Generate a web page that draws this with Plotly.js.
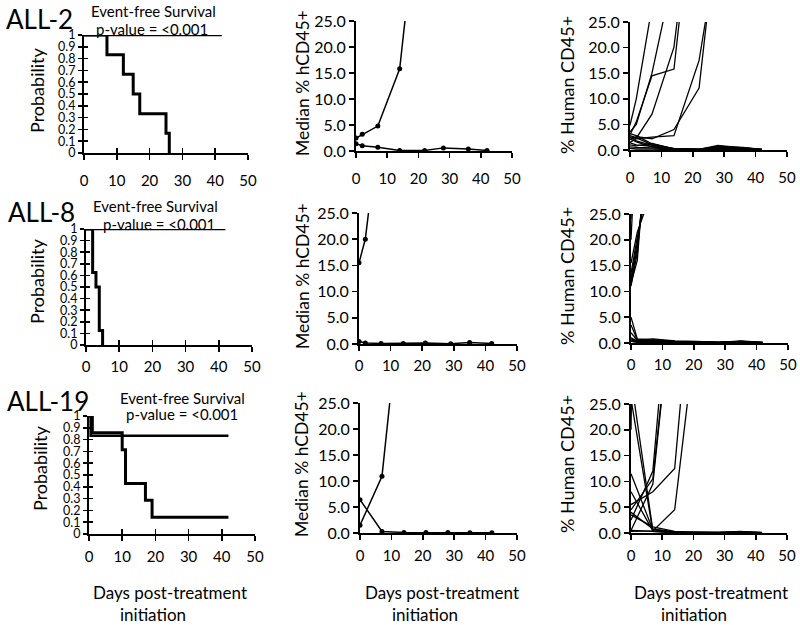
<!DOCTYPE html>
<html><head><meta charset="utf-8">
<script src="https://cdn.plot.ly/plotly-3.0.1.min.js"></script>
<style>html,body{margin:0;padding:0;background:#fff}#chart{width:800px;height:625px}</style>
</head><body><div id="chart"></div>
<script>
// ================= DATA =================
const kmTickVals = [0,0.1,0.2,0.3,0.4,0.5,0.6,0.7,0.8,0.9,1];
const kmTickText = ['0','0.1','0.2','0.3','0.4','0.5','0.6','0.7','0.8','0.9','1'];
const dayTickVals = [0,10,20,30,40,50];
const pctTickVals = [0,5,10,15,20,25];
const pctTickText = ['0.0','5.0','10.0','15.0','20.0','25.0'];

// Kaplan-Meier (event-free survival)
const all2KmCtrlDays = [0,7,12,15,17,25,26];
const all2KmCtrlProb = [1,0.833,0.667,0.5,0.333,0.167,0];
const all2KmTrtDays  = [0,42];
const all2KmTrtProb  = [1,1];

const all8KmCtrlDays = [0,2,3,4,5];
const all8KmCtrlProb = [1,0.625,0.5,0.125,0];
const all8KmTrtDays  = [0,42];
const all8KmTrtProb  = [1,1];

const all19KmCtrlDays = [0,1,10,11,17,19,42];
const all19KmCtrlProb = [1,0.857,0.714,0.429,0.286,0.143,0.143];
const all19KmTrtDays  = [0,0.5,42];
const all19KmTrtProb  = [1,0.833,0.833];

// Median % hCD45+
const all2MedCtrlDays = [0,2,7,14,21];
const all2MedCtrlVals = [2.5,3.2,4.8,15.8,54];
const all2MedTrtDays  = [0,2,7,14,22,28,36,42];
const all2MedTrtVals  = [1.4,1.0,0.7,0.1,0.1,0.6,0.4,0.1];

const all8MedCtrlDays = [0,2,7];
const all8MedCtrlVals = [15.5,20.0,45];
const all8MedTrtDays  = [0,2,7,14,21,29,35,42];
const all8MedTrtVals  = [0.5,0.2,0.1,0.1,0.2,0.05,0.3,0.1];

const all19MedCtrlDays = [0,7,14];
const all19MedCtrlVals = [1.5,10.9,51];
const all19MedTrtDays  = [0,7,14,21,28,35,42];
const all19MedTrtVals  = [6.4,0.3,0.1,0.1,0.1,0.05,0.05];

// Individual mice % human CD45+
const all2IndDays = [0,2,7,14,22,28,36,42];
const all2IndMice = [
  [4.8,10,28],
  [3.5,5,15,35],
  [2.5,2.3,7,20.1,60],
  [3.0,5.5,14.5,15.8,60],
  [2.0,2.6,2.2,4.0,12.1,45],
  [1.5,2.2,2.5,2.8,17.5,40],
  [3.2,2.8,1.2,0.2,0.1,0.9,0.4,0.1],
  [2.8,2.4,1.0,0.3,0.1,0.7,0.5,0.1],
  [2.2,1.6,0.6,0.1,0.2,0.5,0.3,0.05],
  [1.4,1.0,0.7,0.1,0.1,0.4,0.2,0.1],
  [1.0,0.8,1.3,0.2,0.1,0.3,0.3],
  [0.6,0.5,0.4,0.1,0.05,0.2,0.1,0.05],
  [2.6,1.8,0.9,0.2,0.1,0.6,0.4,0.1],
  [0.3,0.2,0.2,0.05,0.05,0.1,0.1,0.05]
];

const all8IndDays = [0,2,7,14,21,28,35,42];
const all8IndMice = [
  [24,60],
  [20,45],
  [11.0,17.5,50],
  [11.8,18.5,45],
  [12.5,19.5,40],
  [13.5,20.5,35],
  [15.5,21.5,30],
  [11.5,16,55],
  [5.0,0.8,0.6,0.3,0.2,0.1,0.3,0.1],
  [3.5,0.6,0.8,0.4,0.3,0.1,0.4,0.1],
  [2.0,0.5,0.5,0.2,0.2,0.1,0.2,0.05],
  [1.0,0.4,0.3,0.2,0.1,0.05,0.3,0.05],
  [0.6,0.3,0.4,0.1,0.2,0.1,0.1,0.05],
  [0.4,0.2,0.2,0.1,0.1,0.05,0.2],
  [0.8,0.3,0.6,0.3,0.2,0.1,0.2,0.1],
  [0.3,0.1,0.1,0.05,0.05,0.05,0.1,0.05]
];

const all19IndDays = [0,7,14,21,28,35,42];
const all19IndMice = [
  [30,0.5],
  [20,300],
  [2.5,12.0,60],
  [4.5,10.5,50],
  [0.5,9.5,50],
  [5.5,8.0,12.5,60],
  [0.3,0.4,4.5,40],
  [11.5,0.6,0.2,0.1,0.1,0.2,0.05],
  [8.0,0.4,0.1,0.1,0.05,0.3,0.05],
  [4.0,0.8,0.2,0.1,0.1,0.1,0.05],
  [3.5,1.2,0.3,0.1,0.1,0.2,0.1],
  [0.5,0.3,0.1,0.05,0.05,0.1,0.05],
  [26,0.3,0.1,0.1,0.1,0.1,0.05]
];

// Labels
const rowLabels = ['ALL-2','ALL-8','ALL-19'];
const kmTitle = 'Event-free Survival';
const pText = 'p-value = <0.001';
const yTitleKM = 'Probability';
const yTitleMed = 'Median % hCD45+';
const yTitleInd = '% Human CD45+';
const xTitle1 = 'Days post-treatment';
const xTitle2 = 'initiation';

// ================= LAYOUT GEOMETRY (pixels) =================
const W = 800, H = 625;
// [x0, x1, y0(top), y1(bottom)]
const boxes = [
  [84,248,35,153],[356,512,21,151],[630,787,22,150],
  [86,252,229,345],[359,517,213,344],[631,788,214,343],
  [89,255,416,534],[360,517,403,533],[631,787,404,533]
];
const px = v => v / W;
const py = v => 1 - v / H;

const FONT = 'Lato, "Open Sans", sans-serif';
const traces = [];
const layout = {
  width: W, height: H,
  margin: {l:0, r:0, t:0, b:0},
  paper_bgcolor: '#fff', plot_bgcolor: 'rgba(0,0,0,0)',
  showlegend: false,
  font: {family: FONT, color: '#000'},
  annotations: []
};

function axId(i){ return i === 1 ? '' : String(i); }

function setAxes(i, kind, standoff){
  const b = boxes[i-1];
  const xa = {
    domain: [px(b[0]), px(b[1])], anchor: 'y' + axId(i), range: [0,50],
    tickvals: dayTickVals, ticks: 'outside', ticklen: 5, tickwidth: 1.5, tickcolor: '#000',
    showline: true, linecolor: '#000', linewidth: 2, showgrid: false, zeroline: false,
    tickfont: {family: FONT, size: 15, color: '#000'}, ticklabelstandoff: standoff, fixedrange: true
  };
  const ya = {
    domain: [py(b[3]), py(b[2])], anchor: 'x' + axId(i),
    ticks: 'outside', ticklen: 5, tickwidth: 1.5, tickcolor: '#000',
    showline: true, linecolor: '#000', linewidth: 2, showgrid: false, zeroline: false,
    tickfont: {family: FONT, size: 16, color: '#000'}, fixedrange: true
  };
  if (kind === 'km') {
    ya.range = [0,1]; ya.tickvals = kmTickVals; ya.ticktext = kmTickText;
    ya.ticklen = 4; xa.ticklen = 5;
    ya.tickfont = {family: FONT, size: 12.5, color: '#000'};
  } else {
    ya.range = [0,25]; ya.tickvals = pctTickVals; ya.ticktext = pctTickText;
  }
  layout['xaxis' + axId(i)] = xa;
  layout['yaxis' + axId(i)] = ya;
}

// overlay axes giving the "cross" tick marks on KM panels
function setOverlay(base, id){
  layout['xaxis' + id] = {
    overlaying: 'x' + axId(base), anchor: 'y' + id, range: [0,50], tickvals: dayTickVals,
    ticks: 'inside', ticklen: 5, tickwidth: 1.5, tickcolor: '#000', showticklabels: false,
    showline: false, showgrid: false, zeroline: false, fixedrange: true
  };
  layout['yaxis' + id] = {
    overlaying: 'y' + axId(base), anchor: 'x' + id, range: [0,1], tickvals: kmTickVals,
    ticks: 'inside', ticklen: 4, tickwidth: 1.5, tickcolor: '#000', showticklabels: false,
    showline: false, showgrid: false, zeroline: false, fixedrange: true
  };
}

const kmSets = [
  [all2KmCtrlDays, all2KmCtrlProb, all2KmTrtDays, all2KmTrtProb],
  [all8KmCtrlDays, all8KmCtrlProb, all8KmTrtDays, all8KmTrtProb],
  [all19KmCtrlDays, all19KmCtrlProb, all19KmTrtDays, all19KmTrtProb]
];
const medSets = [
  [all2MedCtrlDays, all2MedCtrlVals, all2MedTrtDays, all2MedTrtVals],
  [all8MedCtrlDays, all8MedCtrlVals, all8MedTrtDays, all8MedTrtVals],
  [all19MedCtrlDays, all19MedCtrlVals, all19MedTrtDays, all19MedTrtVals]
];
const indSets = [
  [all2IndDays, all2IndMice],
  [all8IndDays, all8IndMice],
  [all19IndDays, all19IndMice]
];
const standoffs = [8, 2, 3];

for (let r = 0; r < 3; r++) {
  const iKM = r*3 + 1, iMed = r*3 + 2, iInd = r*3 + 3;
  setAxes(iKM, 'km', standoffs[r]);
  setAxes(iMed, 'pct', standoffs[r]);
  setAxes(iInd, 'pct', standoffs[r]);
  const ov = 10 + r;
  setOverlay(iKM, ov);

  const km = kmSets[r];
  traces.push({x: km[0], y: km[1], xaxis: 'x' + axId(iKM), yaxis: 'y' + axId(iKM),
    mode: 'lines', line: {shape: 'hv', color: '#000', width: 3}, hoverinfo: 'skip'});
  traces.push({x: km[2], y: km[3], xaxis: 'x' + ov, yaxis: 'y' + ov,
    mode: 'lines', line: {shape: 'hv', color: '#000', width: 2.5}, hoverinfo: 'skip'});

  const md = medSets[r];
  traces.push({x: md[0], y: md[1], xaxis: 'x' + axId(iMed), yaxis: 'y' + axId(iMed),
    mode: 'lines+markers', line: {color: '#000', width: 1.5}, marker: {color: '#000', size: 5},
    hoverinfo: 'skip'});
  traces.push({x: md[2], y: md[3], xaxis: 'x' + axId(iMed), yaxis: 'y' + axId(iMed),
    mode: 'lines+markers', line: {color: '#000', width: 1.5}, marker: {color: '#000', size: 5},
    hoverinfo: 'skip'});

  const ind = indSets[r];
  ind[1].forEach(m => {
    traces.push({x: ind[0].slice(0, m.length), y: m, xaxis: 'x' + axId(iInd), yaxis: 'y' + axId(iInd),
      mode: 'lines', line: {color: '#000', width: 1.3}, hoverinfo: 'skip'});
  });
}

// ================= TEXT =================
function ann(text, x, y, size, opts){
  layout.annotations.push(Object.assign({
    text: text, xref: 'paper', yref: 'paper', x: px(x), y: py(y),
    xanchor: 'center', yanchor: 'middle', showarrow: false,
    font: {family: FONT, size: size, color: '#000'}
  }, opts || {}));
}
const labelPos = [[4,19],[6,212],[5,401]];
const efsPos = [[153,11],[155,206],[182,398]];
const pPos = [[152,29],[159,224],[182,414]];
const probPos = [[37,91],[37,282],[40,469]];
const medPos = [[302,83],[302,276],[302,464]];
const indPos = [[567,85],[567,276],[567,464]];
for (let r = 0; r < 3; r++) {
  ann(rowLabels[r], labelPos[r][0], labelPos[r][1], 26, {xanchor: 'left'});
  ann(kmTitle, efsPos[r][0], efsPos[r][1], 15);
  ann(pText, pPos[r][0], pPos[r][1], 15);
  ann(yTitleKM, probPos[r][0], probPos[r][1], 18, {textangle: -90});
  ann(yTitleMed, medPos[r][0], medPos[r][1], 17.5, {textangle: -90});
  ann(yTitleInd, indPos[r][0], indPos[r][1], 18, {textangle: -90});
}
const dayCenters = [170, 442, 711];
dayCenters.forEach(c => {
  ann(xTitle1, c, 592, 17);
  ann(xTitle2, c - 17, 614, 17);
});

Plotly.newPlot('chart', traces, layout, {staticPlot: true, displayModeBar: false});
</script>
</body></html>
